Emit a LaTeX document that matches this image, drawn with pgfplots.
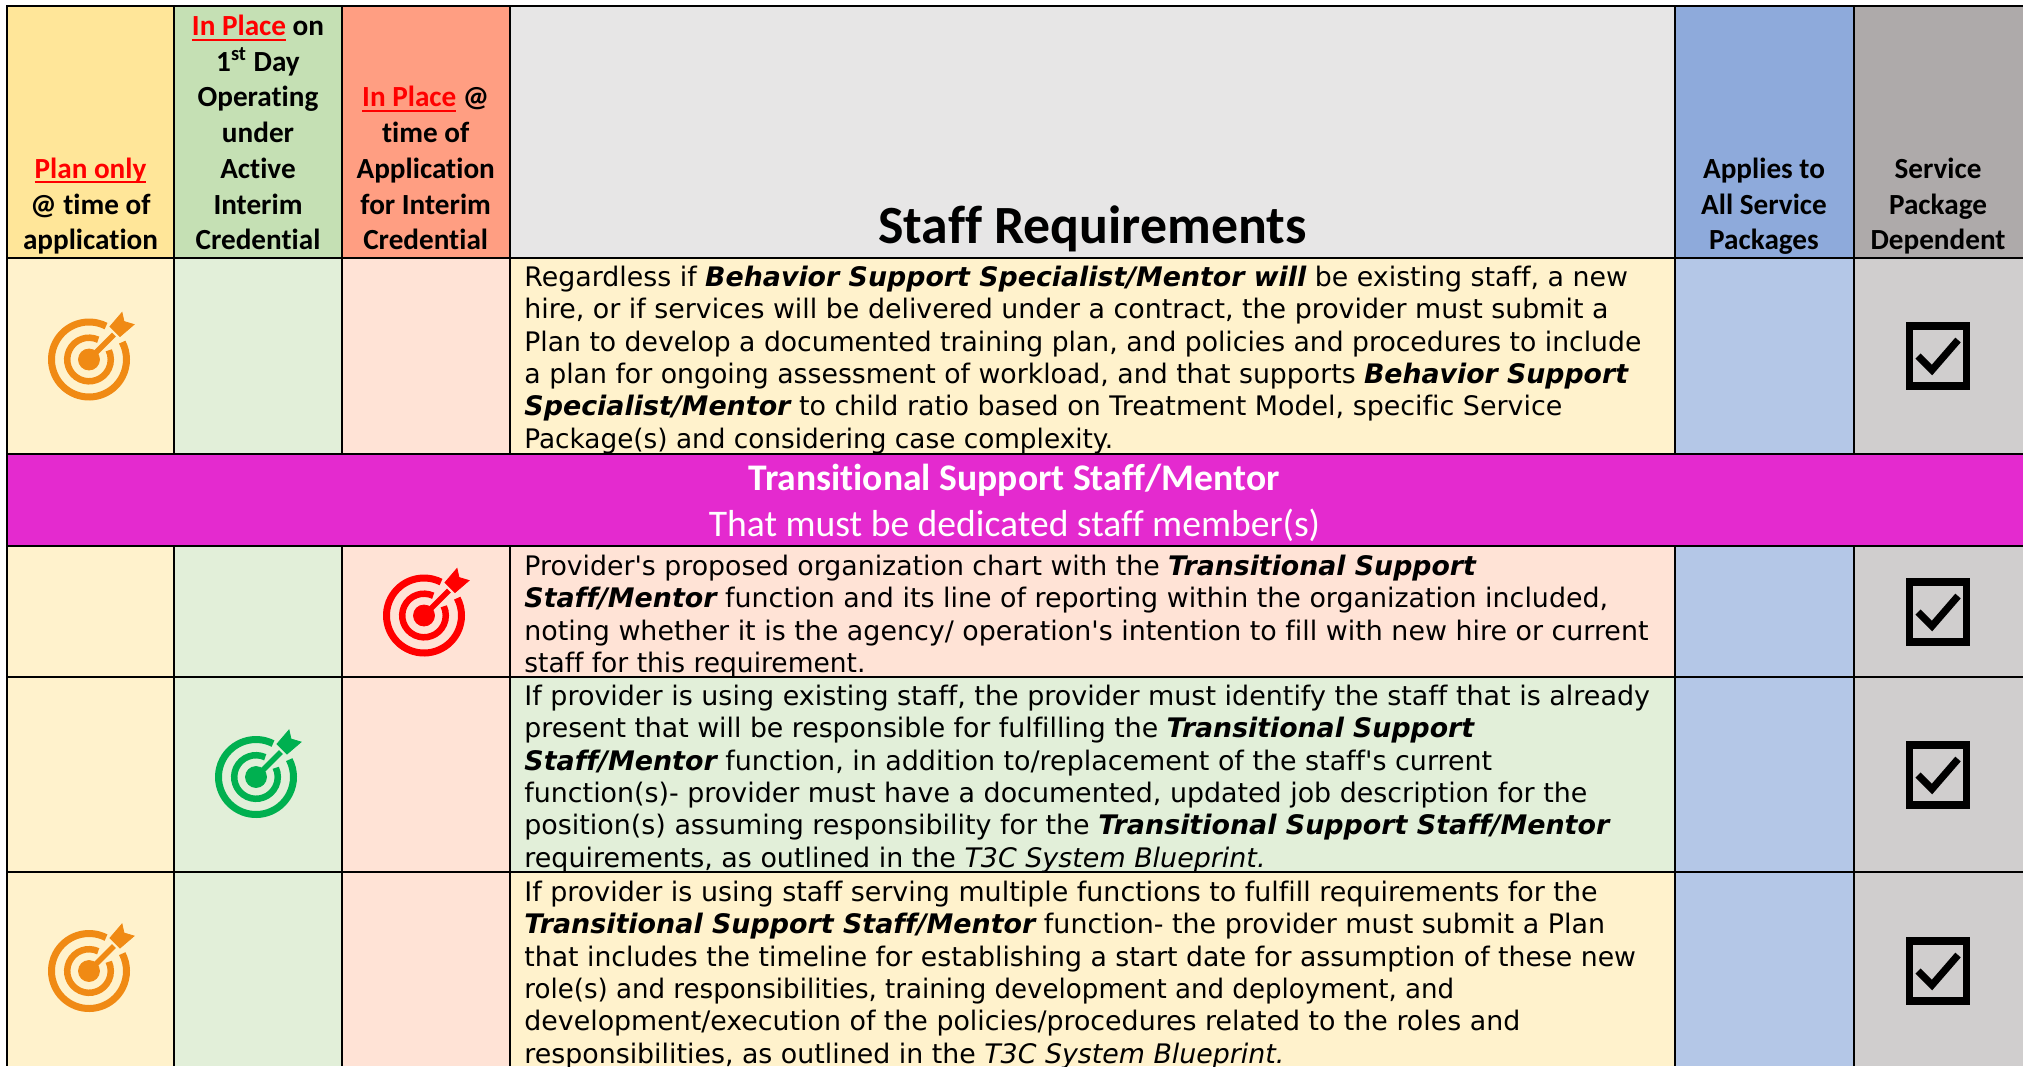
\documentclass[border=0pt]{standalone}
\usepackage{fontspec}
\usepackage{graphicx}
\setmainfont{Carlito}[Ligatures=NoCommon]
\newfontfamily\bodyf{DejaVu Sans}[Ligatures=NoCommon]
\usepackage{pgfplots}
\pgfplotsset{compat=1.18}
\definecolor{hA}{HTML}{FFE699}\definecolor{hB}{HTML}{C5E0B4}\definecolor{hC}{HTML}{FF9E82}
\definecolor{hD}{HTML}{E7E6E6}\definecolor{hE}{HTML}{8EAADB}\definecolor{hF}{HTML}{AEAAAA}
\definecolor{lA}{HTML}{FFF2CC}\definecolor{lB}{HTML}{E2EFD9}\definecolor{lC}{HTML}{FFE3D6}
\definecolor{lE}{HTML}{B4C7E7}\definecolor{lF}{HTML}{D0CECE}\definecolor{mag}{HTML}{E42ACF}
\definecolor{tO}{HTML}{F08A14}\definecolor{tG}{HTML}{00B050}\definecolor{tR}{HTML}{FF0000}
\newcommand\deftarget[2]{\pgfdeclareplotmark{#1}{%
  \draw[#2,line width=3.5pt] (63:18.75pt) arc[start angle=63,end angle=387.6,radius=18.75pt];
  \draw[#2,line width=3.25pt] (65:10.9pt) arc[start angle=65,end angle=385,radius=10.9pt];
  \fill[#2] (0,0) circle[radius=5.25pt];
  \draw[#2,line width=2.8pt] (0,0) -- (12.5pt,12.5pt);
  \fill[#2] (10.5pt,16.5pt) -- (16.5pt,23.5pt) -- (17.5pt,19pt) -- (22.5pt,17.5pt) -- (15.5pt,11.5pt) -- (13.5pt,13.5pt) -- cycle;
}}
\deftarget{targetO}{tO}\deftarget{targetG}{tG}\deftarget{targetR}{tR}
\pgfdeclareplotmark{checkbox}{%
  \draw[black,line width=3.7pt,miter limit=4] (-14.25pt,-15pt) rectangle (14.25pt,15pt);
  \draw[black,line width=3.6pt] (-10pt,0pt) -- (-3pt,-7pt) -- (10pt,8pt);
}
\def\ul#1{\setbox0\hbox{#1}\rlap{\color{red}\vrule width\wd0 height -1.5pt depth 2.4pt}\box0}
\def\IP#1{{\color{red}\ul{#1}}}
\newcommand\cell[5]{\addplot[fill=#5,draw=none,forget plot] coordinates {(#1,#2) (#3,#2) (#3,#4) (#1,#4)} --cycle;}
\newcommand\rl[4]{\addplot[black,line width=1.2pt,forget plot] coordinates {(#1,#2) (#3,#4)};}
\newcommand\hd[3]{\node[anchor=base,inner sep=0pt,yshift=-0.4pt,font=\fontsize{14.6}{17}\selectfont\bfseries] at (axis cs:#1,#2) {#3};}
\newcommand\bd[3][1]{\node[anchor=base west,inner sep=0pt,yshift=-0.5pt,font=\bodyf\fontsize{13.45}{16}\selectfont] at (axis cs:524,#2) {\scalebox{#1}[1]{#3}};}
\def\bi#1{{\bfseries\itshape #1}}
\def\tss{\bi{Transitional Support}}
\begin{document}
\begin{tikzpicture}
\clip (0,0) rectangle (1011.5pt,533pt);
\begin{axis}[at={(0,0)},anchor=south west,scale only axis,width=1011.5pt,height=533pt,
  xmin=0,xmax=2023,ymin=0,ymax=1066,y dir=reverse,hide axis,clip=false]
% header cells
\cell{7}{6}{174}{258}{hA}\cell{174}{6}{342}{258}{hB}\cell{342}{6}{510}{258}{hC}
\cell{510}{6}{1675}{258}{hD}\cell{1675}{6}{1854}{258}{hE}\cell{1854}{6}{2023}{258}{hF}
% row 1
\cell{7}{258}{174}{454}{lA}\cell{174}{258}{342}{454}{lB}\cell{342}{258}{510}{454}{lC}
\cell{510}{258}{1675}{454}{lA}\cell{1675}{258}{1854}{454}{lE}\cell{1854}{258}{2023}{454}{lF}
% band
\cell{7}{454}{2023}{546}{mag}
% row 2
\cell{7}{546}{174}{677}{lA}\cell{174}{546}{342}{677}{lB}\cell{342}{546}{510}{677}{lC}
\cell{510}{546}{1675}{677}{lC}\cell{1675}{546}{1854}{677}{lE}\cell{1854}{546}{2023}{677}{lF}
% row 3
\cell{7}{677}{174}{872}{lA}\cell{174}{677}{342}{872}{lB}\cell{342}{677}{510}{872}{lC}
\cell{510}{677}{1675}{872}{lB}\cell{1675}{677}{1854}{872}{lE}\cell{1854}{677}{2023}{872}{lF}
% row 4
\cell{7}{872}{174}{1066}{lA}\cell{174}{872}{342}{1066}{lB}\cell{342}{872}{510}{1066}{lC}
\cell{510}{872}{1675}{1066}{lA}\cell{1675}{872}{1854}{1066}{lE}\cell{1854}{872}{2023}{1066}{lF}
% rules
\rl{6}{6}{2023}{6}\rl{6}{258}{2023}{258}\rl{6}{454}{2023}{454}\rl{6}{546}{2023}{546}\rl{6}{677}{2023}{677}\rl{6}{872}{2023}{872}
\rl{7}{6}{7}{1066}
\rl{174}{6}{174}{454}\rl{342}{6}{342}{454}\rl{510}{6}{510}{454}\rl{1675}{6}{1675}{454}\rl{1854}{6}{1854}{454}
\rl{174}{546}{174}{1066}\rl{342}{546}{342}{1066}\rl{510}{546}{510}{1066}\rl{1675}{546}{1675}{1066}\rl{1854}{546}{1854}{1066}
% icons
\addplot[only marks,mark=targetO,forget plot] coordinates {(89,359.5) (89,971)};
\addplot[only marks,mark=targetR,forget plot] coordinates {(424,615.5)};
\addplot[only marks,mark=targetG,forget plot] coordinates {(256,777)};
\addplot[only marks,mark=checkbox,forget plot] coordinates {(1938,356) (1938,612) (1938,775) (1938,971)};
% header text
\hd{90.5}{177.5}{\IP{Plan only}}\hd{90.5}{213.5}{@ time of}\hd{90.5}{249}{application}
\hd{258}{35}{\IP{In Place} on}\hd{258}{70.5}{1\textsuperscript{st} Day}\hd{258}{106}{Operating}\hd{258}{142}{under}\hd{258}{177.5}{Active}\hd{258}{213.5}{Interim}\hd{258}{249}{Credential}
\hd{425.7}{106}{\IP{In Place} @}\hd{425.7}{142}{time of}\hd{425.7}{177.5}{Application}\hd{425.7}{213.5}{for Interim}\hd{425.7}{249}{Credential}
\hd{1764}{177.5}{Applies to}\hd{1764}{213.5}{All Service}\hd{1764}{249}{Packages}
\hd{1938}{177.5}{Service}\hd{1938}{213.5}{Package}\hd{1938}{249}{Dependent}
\node[anchor=base,inner sep=0pt,font=\fontsize{26.9}{32}\selectfont\bfseries] at (axis cs:1092.5,243) {Staff Requirements};
% band text
\node[anchor=base,inner sep=0pt,text=white,font=\fontsize{18.8}{22}\selectfont\bfseries] at (axis cs:1014,490) {Transitional Support Staff/Mentor};
\node[anchor=base,inner sep=0pt,text=white,font=\fontsize{18.8}{22}\selectfont] at (axis cs:1014.5,536) {That must be dedicated staff member(s)};
% body text
\bd[0.997]{285}{Regardless if \bi{Behavior Support Specialist/Mentor will} be existing staff, a new}
\bd[0.998]{317.5}{hire, or if services will be delivered under a contract, the provider must submit a}
\bd[0.990]{350}{Plan to develop a documented training plan, and policies and procedures to include}
\bd[0.994]{382}{a plan for ongoing assessment of workload, and that supports \bi{Behavior Support}}
\bd{414.5}{\bi{Specialist/Mentor} to child ratio based on Treatment Model, specific Service}
\bd[0.978]{447}{Package(s) and considering case complexity.}
\bd[0.995]{574}{Provider's proposed organization chart with the \tss}
\bd[0.999]{606.5}{\bi{Staff/Mentor} function and its line of reporting within the organization included,}
\bd[0.999]{639}{noting whether it is the agency/ operation's intention to fill with new hire or current}
\bd[0.985]{671}{staff for this requirement.}
\bd[1.002]{704}{If provider is using existing staff, the provider must identify the staff that is already}
\bd[0.994]{736.5}{present that will be responsible for fulfilling the \tss}
\bd{769}{\bi{Staff/Mentor} function, in addition to/replacement of the staff's current}
\bd[0.999]{801}{function(s)- provider must have a documented, updated job description for the}
\bd{833.5}{position(s) assuming responsibility for the \bi{Transitional Support Staff/Mentor}}
\bd{866}{requirements, as outlined in the {\itshape T3C System Blueprint.}}
\bd{900}{If provider is using staff serving multiple functions to fulfill requirements for the}
\bd{932.5}{\bi{Transitional Support Staff/Mentor} function- the provider must submit a Plan}
\bd[0.993]{965}{that includes the timeline for establishing a start date for assumption of these new}
\bd[0.970]{997}{role(s) and responsibilities, training development and deployment, and}
\bd[0.997]{1029.5}{development/execution of the policies/procedures related to the roles and}
\bd[0.997]{1062}{responsibilities, as outlined in the {\itshape T3C System Blueprint.}}
\end{axis}
\end{tikzpicture}
\end{document}
